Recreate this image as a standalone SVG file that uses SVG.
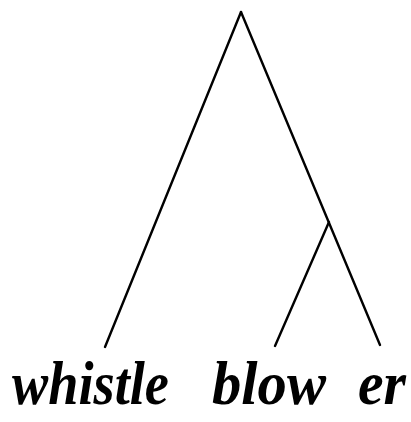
<svg xmlns="http://www.w3.org/2000/svg" width="411" height="422" viewBox="0 0 411 422">
<style>
.e{stroke:#000;stroke-width:2.4;fill:none;stroke-linecap:round}
.w{font-family:"Liberation Serif",serif;font-style:italic;font-weight:bold;font-size:62px;fill:#000}
</style>
<rect width="411" height="422" fill="#fff"/>
<g id="connectors">
<line class="e" x1="241" y1="12" x2="105" y2="347"/>
<line class="e" x1="241" y1="12" x2="380" y2="345"/>
<line class="e" x1="329" y1="222" x2="275" y2="346"/>
</g>
<g id="node-whistle"><text class="w" x="12" y="404" textLength="157" lengthAdjust="spacingAndGlyphs">whistle</text></g>
<g id="node-blow"><text class="w" x="212" y="404" textLength="114" lengthAdjust="spacingAndGlyphs">blow</text></g>
<g id="node-er"><text class="w" x="358" y="404" textLength="48" lengthAdjust="spacingAndGlyphs">er</text></g>
</svg>
